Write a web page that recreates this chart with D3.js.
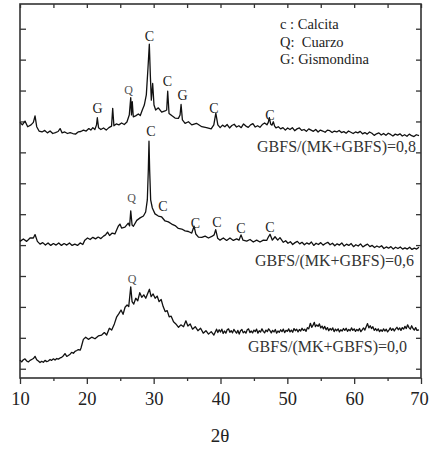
<!DOCTYPE html>
<html>
<head>
<meta charset="utf-8">
<script src="https://cdn.jsdelivr.net/npm/d3@7"></script>
<style>
body{margin:0;background:#fff;}
</style>
</head>
<body>
<div id="xrd"></div>
<script>
// XRD patterns, 2theta vs counts
var top08=[[10.0,7970],[10.35,7890],[10.75,8010],[11.15,7830],[11.65,7890],[12.0,7970],[12.25,8180],[12.5,7830],[12.85,7690],
[13.3,7660],[13.7,7710],[14.1,7630],[14.5,7690],[14.9,7610],[15.3,7640],[15.7,7675],[16.0,7770],[16.3,7630],[16.7,7660],
[17.1,7610],[17.5,7640],[17.9,7610],[18.3,7590],[18.7,7660],[19.1,7675],[19.5,7720],[19.9,7690],[20.3,7770],[20.6,7720],
[20.9,7800],[21.2,7740],[21.45,7890],[21.57,8120],[21.75,7800],[22.1,7740],[22.5,7790],[22.9,7720],[23.3,7800],[23.7,7850],
[23.87,8425],[24.05,7860],[24.4,7920],[24.8,7890],[25.2,7950],[25.6,7900],[26.0,7980],[26.35,8210],[26.57,8770],[26.68,8210],
[26.8,8640],[26.95,8150],[27.3,8180],[27.7,8240],[28.0,8190],[28.3,8370],[28.6,8530],[28.9,8860],[29.15,9730],[29.35,10500],
[29.5,9500],[29.65,8690],[29.85,9230],[30.05,8530],[30.3,8370],[30.7,8440],[31.2,8300],[31.7,8340],[31.95,8370],[32.1,8980],
[32.3,8260],[32.7,8190],[33.2,8110],[33.7,8100],[33.95,8210],[34.1,8550],[34.3,8050],[34.7,7940],[35.2,7990],[35.7,7890],
[36.4,7940],[37.2,7830],[37.9,7800],[38.6,7760],[39.0,7890],[39.3,8270],
[39.6,7890],[39.95,7800],[40.3,7880],[40.65,7830],[41.0,7900],[41.35,7790],[41.7,7870],[42.05,7910],[42.4,7820],[42.75,7860],
[43.1,7800],[43.45,7920],[43.8,7850],[44.15,7810],[44.5,7890],[44.85,7930],[45.2,7820],[45.55,7860],[45.9,7810],[46.25,7900],
[46.6,7950],[46.95,7890],[47.15,7970],[47.31,8120],[47.5,7920],[47.7,7880],[47.9,7990],[48.1,7850],[48.3,7790],[48.65,7830],
[49.0,7760],[49.35,7800],[49.7,7720],[50.05,7790],[50.4,7740],[50.75,7800],[51.1,7700],[51.45,7760],[51.8,7790],[52.15,7710],
[52.5,7740],[52.85,7680],[53.2,7760],[53.55,7720],[53.9,7680],[54.25,7740],[54.6,7660],[54.95,7720],[55.3,7690],[55.65,7650],
[56.0,7720],[56.35,7700],[56.7,7640],[57.05,7690],[57.4,7660],[57.75,7710],[58.1,7640],[58.45,7670],[58.8,7620],[59.15,7690],
[59.5,7650],[59.85,7610],[60.2,7660],[60.55,7630],[60.9,7680],[61.25,7600],[61.6,7640],[61.95,7590],[62.3,7660],[62.65,7620],
[63.0,7550],[63.35,7600],[63.7,7630],[64.05,7560],[64.4,7610],[64.75,7550],[65.1,7620],[65.45,7580],[65.8,7530],[66.15,7590],
[66.5,7560],[66.85,7600],[67.2,7530],[67.55,7570],[67.9,7520],[68.25,7590],[68.6,7540],[68.95,7510],[69.3,7570],[69.7,7540]];

var mid06=[[10.0,4120],[10.5,4200],[11.0,4120],[11.5,4230],[12.0,4230],[12.25,4340],[12.6,4120],[13.0,4030],[13.4,4080],
[13.8,4000],[14.2,4070],[14.6,3990],[15.0,4050],[15.4,4000],[15.8,4070],[16.2,3990],[16.6,4050],[17.0,4000],[17.4,4070],
[17.8,3990],[18.2,4030],[18.6,3990],[19.0,4070],[19.4,4020],[19.7,4160],[20.1,4230],[20.5,4180],[20.9,4250],[21.3,4200],
[21.7,4260],[22.1,4210],[22.5,4290],[22.8,4330],[23.1,4420],[23.4,4310],[23.8,4390],[24.2,4360],[24.7,4610],[24.95,4680],
[25.2,4550],[25.7,4580],[26.2,4710],[26.4,4620],[26.57,5110],[26.77,4650],[26.97,4610],[27.47,4800],[27.97,4880],[28.47,4940],
[28.8,5070],[29.05,5460],[29.2,6430],[29.3,7360],[29.4,6430],[29.55,5460],[29.8,5200],[30.2,5010],[30.7,4940],[31.2,4910],
[31.7,4780],[32.2,4750],[32.7,4680],[33.2,4630],[33.7,4540],[34.2,4520],[34.7,4460],[35.2,4440],[35.7,4390],[36.04,4610],
[36.3,4360],[36.7,4260],[37.2,4250],[37.7,4290],[38.2,4230],[38.7,4280],[39.05,4330],[39.28,4500],[39.58,4220],[39.93,4160],
[40.42,4230],[40.92,4150],[41.42,4230],[41.92,4150],[42.42,4200],[42.77,4160],[43.07,4330],[43.37,4160],[43.92,4130],
[44.42,4180],[44.91,4100],[45.41,4160],[45.91,4100],[46.41,4160],[46.91,4150],[47.16,4260],[47.41,4350],[47.76,4160],
[48.16,4270],[48.56,4160],[48.9,4240],
[49.4,4090],[49.75,4140],[50.1,4060],[50.45,4110],[50.8,4020],[51.15,4080],[51.5,4120],[51.85,4040],[52.2,4090],[52.55,4010],
[52.9,4070],[53.25,4030],[53.6,4100],[53.95,3990],[54.3,4060],[54.65,4020],[55.0,4080],[55.35,4000],[55.7,4050],[56.05,4090],
[56.4,4010],[56.75,4060],[57.1,3980],[57.45,4040],[57.8,4000],[58.15,4070],[58.5,3970],[58.85,4030],[59.2,3990],[59.55,4050],
[59.9,3950],[60.25,4010],[60.6,3970],[60.95,4040],[61.3,3940],[61.65,3990],[62.0,4030],[62.35,3950],[62.7,3990],[63.05,3920],
[63.4,3970],[63.75,3930],[64.1,3980],[64.45,3890],[64.8,3940],[65.15,3900],[65.5,3950],[65.85,3870],[66.2,3930],[66.55,3890],
[66.9,3940],[67.25,3870],[67.6,3910],[67.95,3870],[68.3,3930],[68.65,3860],[69.0,3900],[69.35,3870],[69.7,3930]];

var bot00=[[10.0,280],[10.25,220],[10.5,290],[10.75,320],[11.0,250],[11.25,220],[11.5,270],[11.75,300],[12.0,330],[12.25,400],
[12.5,290],[12.74,250],[13.0,200],[13.24,240],[13.5,210],[13.74,270],[14.0,230],[14.24,250],[14.5,300],[14.74,270],[15.0,320],
[15.24,280],[15.5,330],[15.74,310],[16.0,350],[16.24,370],[16.5,420],[16.73,490],[17.0,400],[17.23,430],[17.5,470],[17.73,530],
[18.0,500],[18.23,560],[18.5,590],[18.73,620],[19.0,600],[19.13,670],[19.48,950],[19.83,1020],[20.23,950],[20.73,1020],
[21.22,970],[21.72,1060],[22.22,1090],[22.62,1170],[22.97,1090],[23.37,1310],[23.72,1250],[24.12,1450],[24.47,1680],
[24.82,1790],[25.12,1900],[25.42,1760],[25.72,1990],[26.02,2060],[26.27,2010],[26.57,2650],[26.77,2170],[27.02,2090],
[27.32,2280],[27.62,2200],[27.92,2460],[28.22,2310],[28.52,2390],[28.82,2280],[29.12,2440],[29.37,2570],[29.62,2330],
[29.92,2420],[30.22,2280],[30.52,2350],[30.82,2170],[31.12,2240],[31.42,2010],[31.72,1850],[32.02,1880],[32.32,1680],
[32.62,1700],[32.97,1520],[33.32,1450],[33.72,1340],[34.07,1420],[34.47,1360],[34.82,1550],[35.12,1380],[35.47,1450],
[35.82,1280],[36.22,1360],[36.62,1230],[37.02,1310],[37.42,1150],[37.82,1230],[38.21,1120],[38.61,1200],[39.01,1090],
[39.41,1280],[39.6,1170],[39.8,1260],[40.0,1190],[40.2,1280],[40.4,1140],[40.6,1220],[40.8,1150],[41.0,1260],[41.2,1290],
[41.4,1180],[41.6,1230],[41.8,1160],[42.0,1270],[42.2,1210],[42.4,1150],[42.6,1240],[42.8,1120],[43.0,1230],[43.2,1270],
[43.4,1160],[43.6,1210],[43.8,1150],[44.0,1260],[44.2,1290],[44.4,1170],[44.6,1220],[44.8,1160],[45.0,1250],[45.2,1200],
[45.4,1280],[45.6,1150],[45.8,1230],[46.0,1190],[46.2,1290],[46.4,1210],[46.6,1160],[46.8,1250],[47.0,1200],[47.2,1290],
[47.4,1230],[47.6,1160],[47.8,1240],[48.0,1190],[48.2,1270],[48.4,1150],[48.6,1220],[48.8,1180],[49.0,1260],[49.2,1200],
[49.4,1280],[49.6,1170],[49.8,1240],[50.0,1210],[50.2,1290],[50.4,1190],[50.6,1250],[50.8,1180],[51.0,1300],[51.2,1230],
[51.4,1280],[51.6,1190],[51.8,1270],[52.0,1220],[52.2,1310],[52.4,1240],[52.6,1280],[52.8,1210],[53.0,1330],[53.2,1290],
[53.45,1470],[53.65,1340],[53.85,1410],[54.04,1500],[54.2,1360],[54.4,1420],[54.6,1370],[54.8,1450],[55.0,1320],[55.2,1380],
[55.4,1290],[55.6,1370],[55.8,1260],[56.0,1330],[56.2,1230],[56.4,1300],[56.6,1250],[56.8,1320],[57.0,1200],[57.2,1280],
[57.4,1230],[57.6,1290],[57.8,1190],[58.0,1260],[58.2,1220],[58.4,1300],[58.6,1240],[58.8,1310],[59.0,1210],[59.2,1270],
[59.4,1230],[59.6,1320],[59.8,1240],[60.0,1290],[60.2,1210],[60.4,1270],[60.6,1230],[60.8,1300],[61.0,1200],[61.2,1260],
[61.4,1320],[61.6,1250],[61.8,1360],[62.0,1460],[62.2,1320],[62.4,1390],[62.6,1300],[62.8,1360],[63.0,1240],[63.2,1300],
[63.4,1230],[63.6,1290],[63.8,1200],[64.0,1260],[64.2,1210],[64.4,1290],[64.6,1220],[64.8,1280],[65.0,1190],[65.2,1250],
[65.4,1320],[65.6,1240],[65.8,1300],[66.0,1220],[66.2,1290],[66.4,1340],[66.6,1260],[66.8,1320],[67.0,1240],[67.2,1330],
[67.4,1280],[67.6,1370],[67.8,1300],[68.0,1420],[68.2,1330],[68.4,1280],[68.6,1390],[68.8,1300],[69.0,1250],[69.2,1330],
[69.4,1240],[69.7,1260]];

// peak letters: [2theta, counts at baseline of letter, letter]
var peaks08=[[21.6,8270,'G'],[26.24,8890,'Q'],[29.38,10600,'C'],[32.07,9150,'C'],[34.32,8690,'G'],[39.03,8270,'C'],[47.41,8040,'C']];
var peaks06=[[29.6,7530,'C'],[26.68,5390,'Q'],[31.4,5100,'C'],[36.26,4550,'C'],[39.48,4590,'C'],[43.07,4390,'C'],[47.41,4420,'C']];
var peaks00=[[26.76,2770,'Q']];

var seriesNames=['GBFS/(MK+GBFS)=0,8','GBFS/(MK+GBFS)=0,6','GBFS/(MK+GBFS)=0,0'];
var legendLines=['c : Calcita','Q:  Cuarzo','G: Gismondina'];
var xMajor=[10,20,30,40,50,60,70];
var xMinor=[15,25,35,45,55,65];
var yTicks=[0,1000,2000,3000,4000,5000,6000,7000,8000,9000,10000,11000];
var xTitle='2θ';

var W=429,H=450;
var serif='"Liberation Serif","Times New Roman",serif';

var svg=d3.select('#xrd').append('svg')
    .attr('width',W)
    .attr('height',H)
    .style('background-color','#fff');

var x=d3.scaleLinear().domain([10,70]).range([20,421]);
var y=d3.scaleLinear().domain([-300,11800]).range([378,4]);

function axisStyle(g){
    g.select('.domain').remove();
    g.selectAll('line').style('stroke','#333').style('stroke-width',1.3);
}

// ticks: bottom outward, others inward
svg.append('g').attr('transform','translate(0,378)')
    .call(d3.axisBottom(x).tickValues(xMajor).tickSize(6).tickPadding(8).tickFormat(d3.format('d')))
    .call(axisStyle)
    .call(function(g){
        g.selectAll('text').attr('font-family',serif).attr('font-size','18.5px').attr('fill','#222')
            .attr('dx',function(d){return d==70?'-2':null;});
    });
svg.append('g').attr('transform','translate(0,378)')
    .call(d3.axisBottom(x).tickValues(xMinor).tickSize(3).tickFormat(''))
    .call(axisStyle);
svg.append('g').attr('transform','translate(0,4)')
    .call(d3.axisTop(x).tickValues(xMajor.concat(xMinor)).tickSize(-4).tickFormat(''))
    .call(axisStyle);
svg.append('g').attr('transform','translate(20,0)')
    .call(d3.axisLeft(y).tickValues(yTicks).tickSize(-6).tickFormat(''))
    .call(axisStyle);
svg.append('g').attr('transform','translate(421,0)')
    .call(d3.axisRight(y).tickValues(yTicks).tickSize(-5).tickFormat(''))
    .call(axisStyle);

svg.append('rect')
    .attr('x',20).attr('y',4)
    .attr('width',401).attr('height',374)
    .style('fill','none')
    .style('stroke','#333')
    .style('stroke-width',1.6);

var line=d3.line().x(function(d){return x(d[0]);}).y(function(d){return y(d[1]);});

svg.selectAll('.trace')
    .data([top08,mid06,bot00]).enter()
    .append('path')
    .attr('class','trace')
    .attr('d',line)
    .style('fill','none')
    .style('stroke','#111')
    .style('stroke-width',1.3)
    .style('stroke-linejoin','round');

var allPeaks=peaks08.concat(peaks06,peaks00);
svg.selectAll('.peak')
    .data(allPeaks).enter()
    .append('text')
    .attr('class','peak')
    .attr('x',function(d){return x(d[0]);})
    .attr('y',function(d){return y(d[1]);})
    .attr('text-anchor','middle')
    .attr('font-family',serif)
    .attr('font-size',function(d){return d[2]=='Q'?'12px':'14px';})
    .attr('fill',function(d){return d[2]=='Q'?'#555':'#222';})
    .text(function(d){return d[2];});

// series names, right aligned under each pattern
var nameRight=[416,414,407], nameBase=[152,266,352];
svg.selectAll('.sname')
    .data(seriesNames).enter()
    .append('text')
    .attr('class','sname')
    .attr('x',function(d,i){return nameRight[i];})
    .attr('y',function(d,i){return nameBase[i];})
    .attr('text-anchor','end')
    .attr('font-family',serif)
    .attr('font-size','16px')
    .attr('fill','#333')
    .text(function(d){return d;});

svg.selectAll('.legend')
    .data(legendLines).enter()
    .append('text')
    .attr('class','legend')
    .attr('x',280)
    .attr('y',function(d,i){return 29+i*17.5;})
    .attr('font-family',serif)
    .attr('font-size','14.5px')
    .attr('fill','#222')
    .style('white-space','pre')
    .text(function(d){return d;});

svg.append('text')
    .attr('x',220)
    .attr('y',442)
    .attr('text-anchor','middle')
    .attr('font-family',serif)
    .attr('font-size','19px')
    .attr('fill','#222')
    .text(xTitle);
</script>
</body>
</html>
